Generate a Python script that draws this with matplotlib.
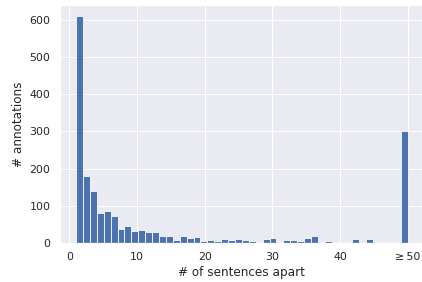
import numpy as np
import matplotlib
matplotlib.use("Agg")
import matplotlib.pyplot as plt
import seaborn as sns

# distance (in sentences) between linked annotations; last bin holds ">= 50"
bin_lo, bin_hi, n_bins = 1, 50, 48
counts = [610, 180, 140, 81, 86, 73, 36, 46, 33, 34, 29, 29, 19, 19, 8, 18,
          12, 16, 5, 8, 5, 9, 7, 11, 8, 4, 3, 9, 13, 1, 8, 8,
          6, 12, 17, 0, 5, 1, 0, 2, 10, 0, 10, 1, 0, 1, 1, 302]
xticks = [0, 10, 20, 30, 40, 50]
xticklabels = ["0", "10", "20", "30", "40", "\u2265\u200950"]

sns.set_theme(style="darkgrid")

W, H, DPI = 422, 282, 72
fig = plt.figure(figsize=(W / DPI, H / DPI), dpi=DPI)
ax = fig.add_axes([60 / W, (H - 242.8) / H, (W - 60) / W, (242.8 - 5) / H])

edges = np.linspace(bin_lo, bin_hi, n_bins + 1)
mids = (edges[:-1] + edges[1:]) / 2
ax.hist(mids, bins=edges, weights=counts, color="#4c72b0",
        edgecolor="white", linewidth=0.8)

ax.set_xlim(-1.37, 52.1)
ax.set_xticks(xticks)
ax.set_xticklabels(xticklabels)
ax.set_yticks([0, 100, 200, 300, 400, 500, 600])
ax.set_xlabel("# of sentences apart")
ax.set_ylabel("# annotations")

fig.savefig("out.png", dpi=DPI)
